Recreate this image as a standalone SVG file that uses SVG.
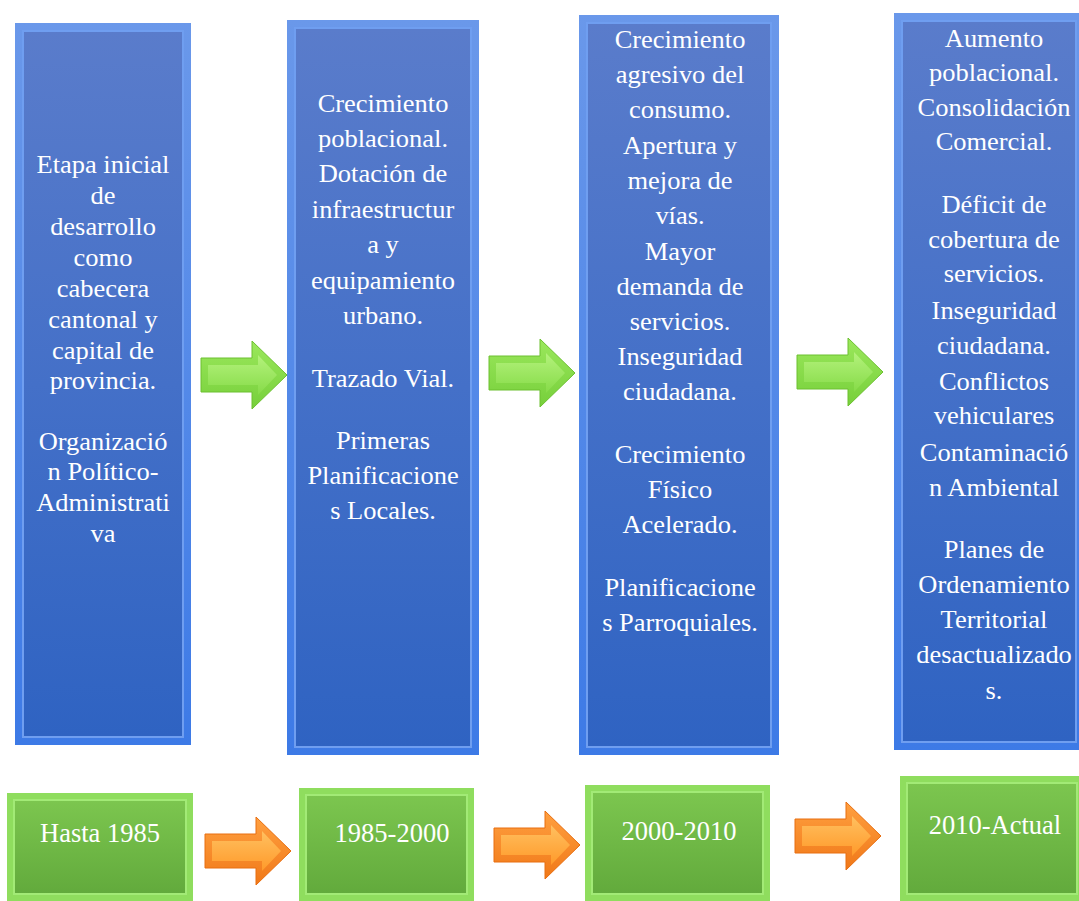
<svg xmlns="http://www.w3.org/2000/svg" width="1079" height="901" viewBox="0 0 1079 901">
<defs>
<linearGradient id="blueFill" x1="0" y1="0" x2="0" y2="1">
<stop offset="0" stop-color="#5a7ccb"/>
<stop offset="0.5" stop-color="#4470c8"/>
<stop offset="1" stop-color="#2f63c2"/>
</linearGradient>
<linearGradient id="blueEdge" x1="0" y1="0" x2="0" y2="1">
<stop offset="0" stop-color="#6a98ea"/>
<stop offset="1" stop-color="#3d7ae6"/>
</linearGradient>
<linearGradient id="greenFill" x1="0" y1="0" x2="0" y2="1">
<stop offset="0" stop-color="#7cc64f"/>
<stop offset="1" stop-color="#62aa3c"/>
</linearGradient>
<linearGradient id="greenArrow" x1="0" y1="0" x2="0" y2="1">
<stop offset="0" stop-color="#9be85c"/>
<stop offset="1" stop-color="#76cf3a"/>
</linearGradient>
<linearGradient id="greenArrowIn" x1="0" y1="0" x2="0" y2="1">
<stop offset="0" stop-color="#b4f27c"/>
<stop offset="1" stop-color="#86db48"/>
</linearGradient>
<linearGradient id="orangeArrow" x1="0" y1="0" x2="0" y2="1">
<stop offset="0" stop-color="#ffa040"/>
<stop offset="1" stop-color="#f07818"/>
</linearGradient>
<linearGradient id="orangeArrowIn" x1="0" y1="0" x2="0" y2="1">
<stop offset="0" stop-color="#ffc060"/>
<stop offset="1" stop-color="#ff9a2a"/>
</linearGradient>
<path id="arrowOuter" d="M0,-17 L51,-17 L51,-34 L86,0 L51,34 L51,17 L0,17 Z"/>
<path id="arrowInner" d="M7,-10 L57,-10 L57,-20 L76,0 L57,20 L57,10 L7,10 Z"/>
<g id="gArrow">
<use href="#arrowOuter" fill="url(#greenArrow)" stroke="#6cc030" stroke-width="1"/>
<use href="#arrowInner" fill="url(#greenArrowIn)"/>
</g>
<g id="oArrow">
<use href="#arrowOuter" fill="url(#orangeArrow)" stroke="#e86e10" stroke-width="1"/>
<use href="#arrowInner" fill="url(#orangeArrowIn)"/>
</g>
</defs>
<style>
text { font-family: 'Liberation Serif', 'Times New Roman', serif; fill: #ffffff; text-anchor: middle; }
.bt { font-size: 24.5px; }
.gt { font-size: 26.5px; }
.bo { fill: url(#blueEdge); }
.bi { fill: url(#blueFill); stroke: #6f9ef0; stroke-width: 2; }
.go { fill: #8fdd5e; }
.gi { fill: url(#greenFill); stroke: #a2ea76; stroke-width: 2; }
</style>
<rect width="1079" height="901" fill="#ffffff"/>

<g id="connectors">
<use href="#gArrow" x="201" y="375"/>
<use href="#gArrow" x="489" y="373"/>
<use href="#gArrow" x="797" y="372"/>
<use href="#oArrow" x="205" y="851"/>
<use href="#oArrow" x="494" y="845"/>
<use href="#oArrow" x="795" y="836"/>
</g>

<g id="stage1">
<rect class="bo" x="15" y="23" width="176" height="722"/>
<rect class="bi" x="23" y="31" width="160" height="706"/>
<g transform="translate(103 0) scale(1.08 1)">
<text class="bt" x="0" y="173">Etapa inicial</text>
<text class="bt" x="0" y="204">de</text>
<text class="bt" x="0" y="235">desarrollo</text>
<text class="bt" x="0" y="266">como</text>
<text class="bt" x="0" y="297">cabecera</text>
<text class="bt" x="0" y="328">cantonal y</text>
<text class="bt" x="0" y="359">capital de</text>
<text class="bt" x="0" y="389">provincia.</text>
<text class="bt" x="0" y="450">Organizació</text>
<text class="bt" x="0" y="480">n Político-</text>
<text class="bt" x="0" y="511">Administrati</text>
<text class="bt" x="0" y="542">va</text>
</g>
</g>

<g id="stage2">
<rect class="bo" x="287" y="20" width="192" height="735"/>
<rect class="bi" x="295" y="28" width="176" height="719"/>
<g transform="translate(383 0) scale(1.08 1)">
<text class="bt" x="0" y="112">Crecimiento</text>
<text class="bt" x="0" y="147">poblacional.</text>
<text class="bt" x="0" y="182">Dotación de</text>
<text class="bt" x="0" y="218">infraestructur</text>
<text class="bt" x="0" y="253">a y</text>
<text class="bt" x="0" y="289">equipamiento</text>
<text class="bt" x="0" y="324">urbano.</text>
<text class="bt" x="0" y="387">Trazado Vial.</text>
<text class="bt" x="0" y="449">Primeras</text>
<text class="bt" x="0" y="484">Planificacione</text>
<text class="bt" x="0" y="519">s Locales.</text>
</g>
</g>

<g id="stage3">
<rect class="bo" x="579" y="15" width="200" height="740"/>
<rect class="bi" x="587" y="23" width="184" height="724"/>
<g transform="translate(680 0) scale(1.08 1)">
<text class="bt" x="0" y="48">Crecimiento</text>
<text class="bt" x="0" y="83">agresivo del</text>
<text class="bt" x="0" y="118">consumo.</text>
<text class="bt" x="0" y="154">Apertura y</text>
<text class="bt" x="0" y="189">mejora de</text>
<text class="bt" x="0" y="224">vías.</text>
<text class="bt" x="0" y="260">Mayor</text>
<text class="bt" x="0" y="295">demanda de</text>
<text class="bt" x="0" y="330">servicios.</text>
<text class="bt" x="0" y="365">Inseguridad</text>
<text class="bt" x="0" y="400">ciudadana.</text>
<text class="bt" x="0" y="463">Crecimiento</text>
<text class="bt" x="0" y="498">Físico</text>
<text class="bt" x="0" y="533">Acelerado.</text>
<text class="bt" x="0" y="596">Planificacione</text>
<text class="bt" x="0" y="631">s Parroquiales.</text>
</g>
</g>

<g id="stage4">
<rect class="bo" x="894" y="13" width="190" height="737"/>
<rect class="bi" x="902" y="21" width="174" height="721"/>
<g transform="translate(994 0) scale(1.08 1)">
<text class="bt" x="0" y="47">Aumento</text>
<text class="bt" x="0" y="81">poblacional.</text>
<text class="bt" x="0" y="116">Consolidación</text>
<text class="bt" x="0" y="150">Comercial.</text>
<text class="bt" x="0" y="213">Déficit de</text>
<text class="bt" x="0" y="248">cobertura de</text>
<text class="bt" x="0" y="282">servicios.</text>
<text class="bt" x="0" y="319">Inseguridad</text>
<text class="bt" x="0" y="354">ciudadana.</text>
<text class="bt" x="0" y="390">Conflictos</text>
<text class="bt" x="0" y="424">vehiculares</text>
<text class="bt" x="0" y="461">Contaminació</text>
<text class="bt" x="0" y="496">n Ambiental</text>
<text class="bt" x="0" y="558">Planes de</text>
<text class="bt" x="0" y="593">Ordenamiento</text>
<text class="bt" x="0" y="628">Territorial</text>
<text class="bt" x="0" y="663">desactualizado</text>
<text class="bt" x="0" y="699">s.</text>
</g>
</g>

<g id="period1">
<rect class="go" x="7" y="793" width="186" height="108"/>
<rect class="gi" x="14" y="800" width="172" height="94"/>
<text class="gt" x="100" y="842">Hasta 1985</text>
</g>

<g id="period2">
<rect class="go" x="299" y="788" width="175" height="113"/>
<rect class="gi" x="306" y="795" width="161" height="99"/>
<text class="gt" x="392" y="842">1985-2000</text>
</g>

<g id="period3">
<rect class="go" x="585" y="785" width="185" height="116"/>
<rect class="gi" x="592" y="792" width="171" height="102"/>
<text class="gt" x="679" y="840">2000-2010</text>
</g>

<g id="period4">
<rect class="go" x="900" y="776" width="184" height="125"/>
<rect class="gi" x="907" y="783" width="170" height="111"/>
<text class="gt" x="995" y="834">2010-Actual</text>
</g>
</svg>
